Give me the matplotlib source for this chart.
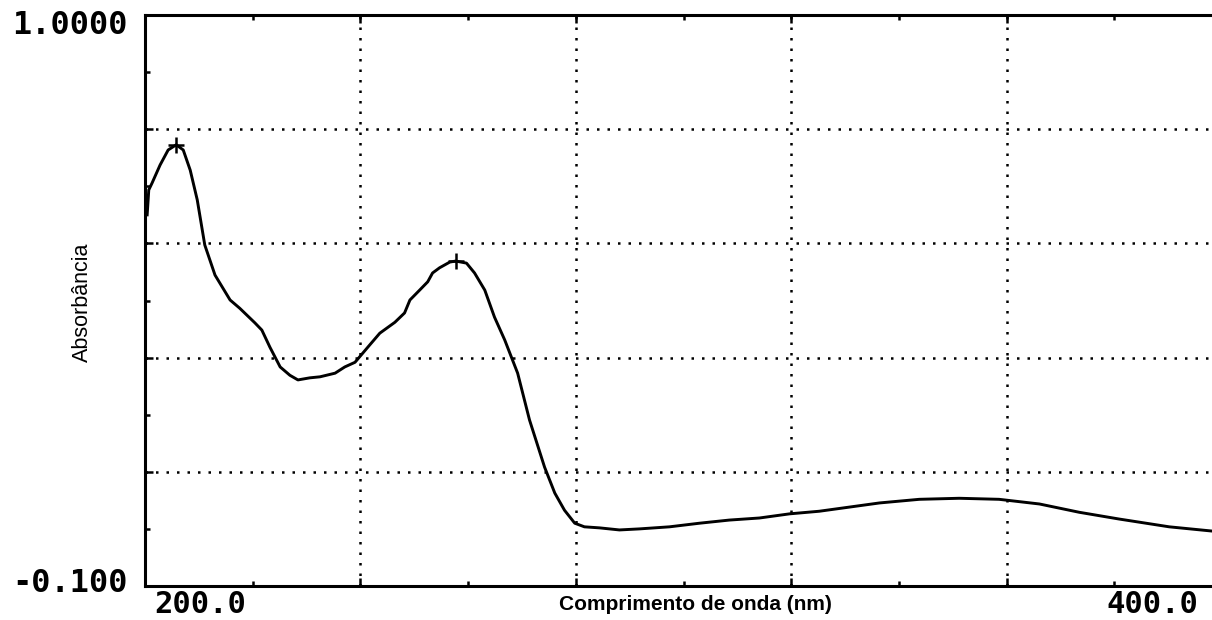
import matplotlib
matplotlib.use('Agg')
import matplotlib.pyplot as plt
from matplotlib.ticker import FixedLocator

# espectro de absorcao UV-Vis (nm, absorbancia)
comprimento = [200.4, 200.7, 201.3, 202.8, 204.3, 205.8, 207.1, 208.4, 209.7,
               211.1, 213.0, 215.8, 217.6, 220.4, 221.7, 223.2, 225.1, 226.9,
               228.4, 230.6, 232.5, 235.3, 237.1, 239.0, 241.7, 243.6, 246.4,
               248.2, 249.2, 251.0, 252.5, 253.4, 254.7, 256.6, 257.7, 259.7,
               261.2, 263.1, 264.9, 266.8, 269.2, 271.4, 274.2, 276.1, 277.9,
               279.8, 281.6, 284.4, 288.1, 291.8, 297.4, 303.0, 308.5, 314.1,
               319.7, 325.2, 330.8, 336.4, 343.8, 351.2, 358.6, 366.1, 373.5,
               380.9, 390.2, 398.0]
absorbancia = [0.615, 0.663, 0.676, 0.711, 0.740, 0.750, 0.740, 0.701, 0.644,
               0.557, 0.499, 0.451, 0.435, 0.407, 0.393, 0.360, 0.322, 0.306,
               0.297, 0.301, 0.303, 0.310, 0.322, 0.331, 0.364, 0.387, 0.408,
               0.426, 0.451, 0.470, 0.486, 0.503, 0.513, 0.524, 0.526, 0.522,
               0.503, 0.470, 0.418, 0.374, 0.310, 0.220, 0.129, 0.079, 0.046,
               0.021, 0.014, 0.012, 0.008, 0.010, 0.014, 0.021, 0.027, 0.031,
               0.039, 0.044, 0.052, 0.060, 0.067, 0.069, 0.067, 0.058, 0.042,
               0.029, 0.014, 0.006]

# picos marcados
picos_nm = [205.8, 257.7]
picos_abs = [0.750, 0.526]

x_min, x_max = 200.0, 400.0
y_min, y_max = -0.100, 1.0000
x_major = [240, 280, 320, 360]
x_minor = [220, 260, 300, 340, 380]
y_major = [0.12, 0.34, 0.56, 0.78]
y_minor = [0.01, 0.23, 0.45, 0.67, 0.89]

W, H = 1212, 620


def main():
    fig = plt.figure(figsize=(W / 100, H / 100), dpi=100)
    fig.patch.set_facecolor('white')
    ax = fig.add_axes([145 / W, 1 - 586 / H, 1077 / W, 571 / H])

    ax.plot(comprimento, absorbancia, color='black', lw=2.1)
    ax.plot(picos_nm, picos_abs, ls='none', marker='+', ms=12, mew=1.8,
            color='black')

    ax.set_xlim(x_min, x_max)
    ax.set_ylim(y_min, y_max)

    ax.xaxis.set_major_locator(FixedLocator(x_major))
    ax.xaxis.set_minor_locator(FixedLocator(x_minor))
    ax.yaxis.set_major_locator(FixedLocator(y_major))
    ax.yaxis.set_minor_locator(FixedLocator(y_minor))
    ax.tick_params(which='both', direction='in', top=True, right=False,
                   labelbottom=False, labelleft=False, width=1.8,
                   color='black')
    ax.tick_params(which='major', length=6)
    ax.tick_params(which='minor', length=3.5)

    ax.grid(True, which='major', color='black', lw=1.8, ls=(0, (1, 3.2)))

    for lado in ['left', 'top', 'bottom']:
        ax.spines[lado].set_linewidth(2.2)
    ax.spines['right'].set_visible(False)

    # limites da escala em fonte monoespacada
    mono = dict(family='DejaVu Sans Mono', weight='bold', color='black')
    fig.text(128 / W, 1 - 26 / H, '%.4f' % y_max, ha='right', va='center',
             fontsize=23, **mono)
    fig.text(128 / W, 1 - 584 / H, '%.3f' % y_min, ha='right', va='center',
             fontsize=23, **mono)
    fig.text(154 / W, 1 - 613 / H, '%.1f' % x_min, ha='left',
             va='baseline', fontsize=22, **mono)
    fig.text(1198 / W, 1 - 613 / H, '%.1f' % x_max, ha='right',
             va='baseline', fontsize=22, **mono)

    fig.text(695 / W, 1 - 605 / H, 'Comprimento de onda (nm)', ha='center',
             va='center', family='Liberation Sans', fontsize=15,
             weight='bold')
    fig.text(82 / W, 1 - 302 / H, 'Absorbância', ha='center', va='center',
             rotation=90, family='Liberation Sans', fontsize=15.5)

    fig.savefig('out.png', dpi=100, facecolor='white')


if __name__ == "__main__":
    main()
